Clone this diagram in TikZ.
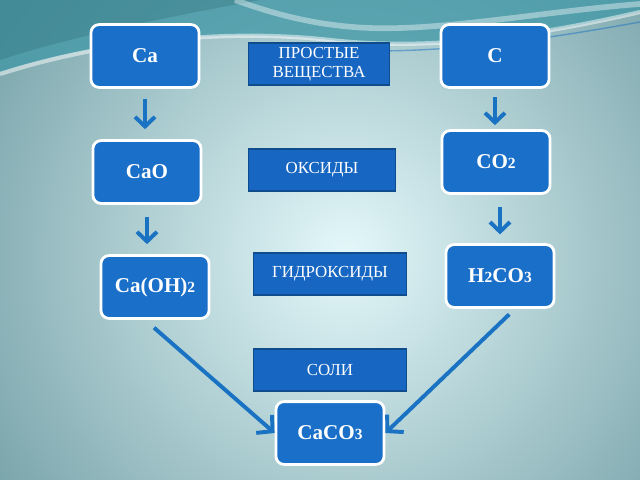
\documentclass[tikz,border=0pt]{standalone}
\usepackage{fontspec}
\setmainfont{Liberation Serif}
\usetikzlibrary{arrows.meta}
\definecolor{boxblue}{HTML}{1A6FC9}
\definecolor{labblue}{HTML}{1666C2}
\definecolor{labedge}{HTML}{0E4C8C}
\definecolor{arrblue}{HTML}{1A72C2}
\definecolor{bgcenter}{HTML}{E4F8FA}
\definecolor{bgouter}{HTML}{5A8C93}
\definecolor{bandteal}{HTML}{3F97A6}
\newcommand{\sm}[1]{{\fontsize{11}{12}\selectfont #1}}
\begin{document}
\begin{tikzpicture}[x=0.025cm,y=-0.025cm,
    substance/.style={draw=white,line width=2pt,fill=boxblue,rounded corners=0.2cm,
      minimum width=2.7cm,minimum height=1.57cm,text=white,
      font=\fontsize{15}{17}\selectfont\bfseries},
    classbox/.style={draw=labedge,line width=1.2pt,fill=labblue,
      minimum height=1.04cm,text=white,align=center,
      font=\fontsize{12}{13.5}\selectfont,inner sep=1pt},
    down/.style={draw=arrblue,line width=2.8pt,-{Straight Barb[length=2.4mm,width=5mm]}},
    diag/.style={draw=arrblue,line width=2.8pt,-{Straight Barb[length=2.8mm,width=6mm]}}]
    \useasboundingbox (0,0) rectangle (640,480);
    \begin{scope}
    \clip (0,0) rectangle (640,480);
    \shade[inner color=bgcenter,outer color=bgouter] (345,255) circle (540);
    \fill[bandteal,opacity=0.75] (0,0) -- (640,0) -- (640,12)
        .. controls (520,40) and (420,50) .. (330,40)
        .. controls (220,28) and (100,40) .. (0,72) -- cycle;
    \fill[bandteal!70!black,opacity=0.3] (0,0) -- (260,0)
        .. controls (150,20) and (60,40) .. (0,60) -- cycle;
    \draw[white,opacity=0.5,line width=3pt] (0,74)
        .. controls (100,42) and (220,28) .. (330,40)
        .. controls (420,50) and (520,40) .. (640,12);
    \draw[white,opacity=0.4,line width=4pt] (235,0)
        .. controls (290,20) and (340,30) .. (400,28)
        .. controls (470,26) and (560,10) .. (640,4);
    \draw[arrblue,opacity=0.5,line width=1pt] (640,22)
        .. controls (540,40) and (440,55) .. (330,50);
    \end{scope}
    \node[substance] (ca) at (145,56) {Ca};
    \node[substance] (c) at (495,56) {C};
    \node[substance] (cao) at (147,172) {CaO};
    \node[substance] (co2) at (496,162) {CO\sm{2}};
    \node[substance] (caoh) at (155,287) {Ca(OH)\sm{2}};
    \node[substance] (h2co3) at (500,276) {H\sm{2}CO\sm{3}};
    \node[substance] (caco3) at (330,433) {CaCO\sm{3}};
    \node[classbox,minimum width=3.52cm] (simple) at (319,64) {ПРОСТЫЕ\\ВЕЩЕСТВА};
    \node[classbox,minimum width=3.67cm] (oxides) at (322,170) {ОКСИДЫ};
    \node[classbox,minimum width=3.82cm] (hydrox) at (330,274) {ГИДРОКСИДЫ};
    \node[classbox,minimum width=3.82cm] (salts) at (330,370) {СОЛИ};
    \draw[down,shorten <=0.25cm,shorten >=0.25cm] (ca.south) -- (ca.south |- cao.north);
    \draw[down,shorten <=0.2cm,shorten >=0.1cm] (c.south) -- (c.south |- co2.north);
    \draw[down,shorten <=0.3cm,shorten >=0.25cm] (cao.south) -- (cao.south |- caoh.north);
    \draw[down,shorten <=0.3cm,shorten >=0.22cm] (h2co3.north |- co2.south) -- (h2co3.north);
    \draw[diag,shorten <=0.3cm] ([xshift=-0.25cm]caoh.south) -- (caco3.west);
    \draw[diag,shorten <=0.2cm] ([xshift=0.375cm]h2co3.south) -- (caco3.east);
\end{tikzpicture}
\end{document}
